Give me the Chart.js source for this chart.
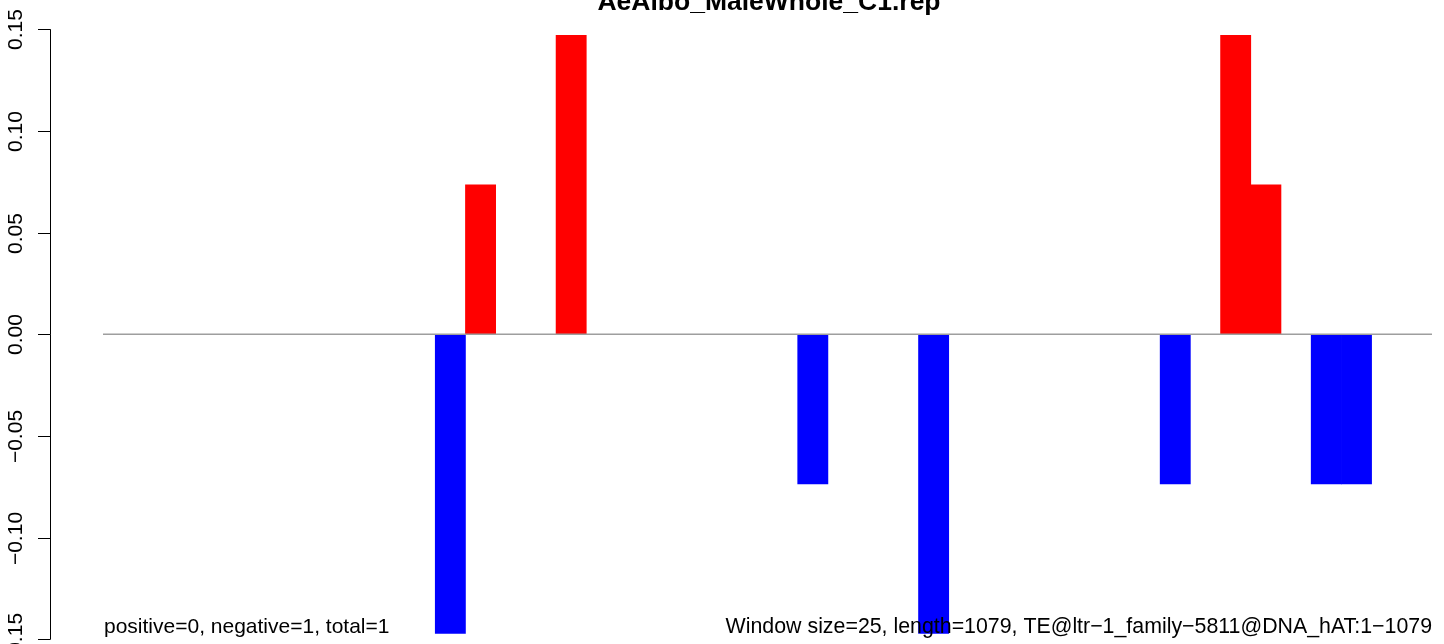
<!DOCTYPE html>
<html>
<head>
<meta charset="utf-8">
<script src="https://cdn.jsdelivr.net/npm/chart.js@4"></script>
<style>
  body { margin: 0; background: #fff; }
  canvas { display: block; }
</style>
</head>
<body>
<canvas id="repChart" width="1444" height="644"></canvas>
<script>
// window index (25 bp windows, 44 in total) and score per window
const bins = [11, 12, 15, 23, 27, 35, 37, 38, 40, 41];
const scores = [-0.147, 0.0735, 0.147, -0.0735, -0.147, -0.0735, 0.147, 0.0735, -0.0735, -0.0735];
const nWindows = 44;
const yTicks = [-0.15, -0.10, -0.05, 0, 0.05, 0.10, 0.15];

const titleText = "AeAlbo_MaleWhole_C1.rep";
const leftNote = "positive=0, negative=1, total=1";
const rightNote = "Window size=25, length=1079, TE@ltr\u22121_family\u22125811@DNA_hAT:1\u22121079";

const FONT = "'Liberation Sans', Arial, sans-serif";

// y axis + texts, R style
const rPlotExtras = {
    id: "rPlotExtras",
    afterDraw(chart) {
        const ctx = chart.ctx;
        const y = chart.scales.y;
        const axisX = chart.chartArea.left;
        ctx.save();
        ctx.strokeStyle = "#000";
        ctx.lineWidth = 1;
        ctx.beginPath();
        ctx.moveTo(axisX + 0.5, y.getPixelForValue(yTicks[0]));
        ctx.lineTo(axisX + 0.5, y.getPixelForValue(yTicks[yTicks.length - 1]));
        ctx.stroke();

        ctx.fillStyle = "#000";
        ctx.font = "21px " + FONT;
        ctx.textAlign = "center";
        ctx.textBaseline = "alphabetic";
        for (let i = 0; i < yTicks.length; i++) {
            let py = Math.round(y.getPixelForValue(yTicks[i])) + 0.5;
            ctx.beginPath();
            ctx.moveTo(axisX - 12, py);
            ctx.lineTo(axisX + 0.5, py);
            ctx.stroke();
            let label = yTicks[i].toFixed(2).replace("-", "\u2212");
            ctx.save();
            ctx.translate(22, py);
            ctx.rotate(-Math.PI / 2);
            ctx.fillText(label, 0, 0);
            ctx.restore();
        }

        // title (cut off at the top like the original)
        ctx.font = "bold 26.5px " + FONT;
        ctx.textAlign = "center";
        ctx.fillText(titleText, 769, 10);

        ctx.font = "21px " + FONT;
        ctx.textAlign = "left";
        ctx.fillText(leftNote, 104, 633);
        ctx.font = "21.35px " + FONT;
        ctx.textAlign = "right";
        ctx.fillText(rightNote, 1432, 633);
        ctx.restore();
    }
};

let barData = [];
for (let i = 0; i < bins.length; i++) {
    barData.push({ x: bins[i] + 0.5, y: scores[i] });
}

const repChart = new Chart(document.getElementById("repChart"), {
    type: "bar",
    data: {
        datasets: [{
            type: "line",
            data: [{ x: 0, y: 0 }, { x: nWindows, y: 0 }],
            borderColor: "rgb(158,158,158)",
            borderWidth: 1.5,
            pointRadius: 0,
            order: -1
        }, {
            data: barData,
            backgroundColor: scores.map(v => v > 0 ? "#FF0000" : "#0000FF"),
            borderWidth: 0,
            barPercentage: 1,
            categoryPercentage: 1
        }]
    },
    options: {
        responsive: false,
        animation: false,
        layout: {
            padding: { left: 50, right: 11, top: 29.3, bottom: 4.6 }
        },
        plugins: {
            legend: { display: false },
            tooltip: { enabled: false },
            title: { display: false }
        },
        scales: {
            x: {
                type: "linear",
                display: false,
                offset: false,
                min: -53 / 30.2,
                max: nWindows + 1 / 30.2
            },
            y: {
                display: false,
                min: -0.15,
                max: 0.15
            }
        }
    },
    plugins: [rPlotExtras]
});
</script>
</body>
</html>
